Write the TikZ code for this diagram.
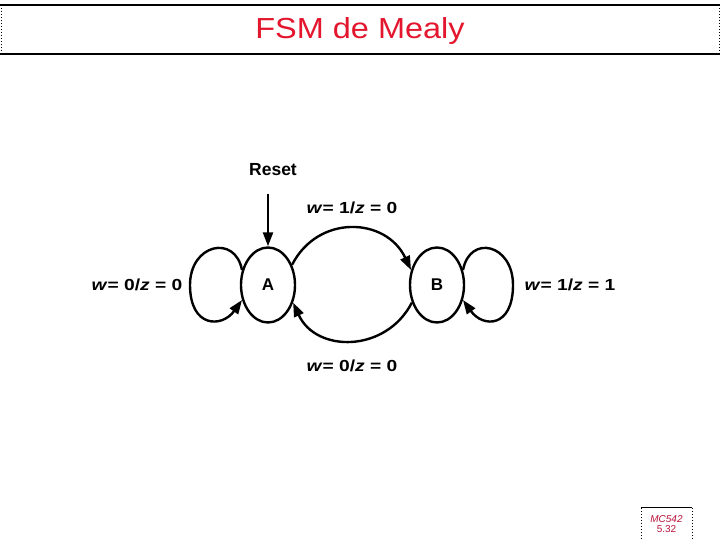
\documentclass[tikz,border=0pt]{standalone}
\usepackage{fontspec}
\setmainfont{Liberation Sans}
\usetikzlibrary{shapes.geometric,arrows.meta}
\definecolor{titlered}{HTML}{E3162E}
\definecolor{footred}{HTML}{B8143C}
\tikzset{
  state/.style={draw, line width=2.4pt, ellipse, minimum width=54pt, minimum height=75pt, inner sep=0pt, font=\fontsize{17}{19}\selectfont\bfseries},
  arr/.style={line width=2.4pt, -{Triangle[length=14pt,width=10pt]}},
  lbl/.style={font=\fontsize{16}{18}\selectfont\bfseries, xscale=1.2},
  frame/.style={line width=1.4pt},
  dotline/.style={line width=1pt, dotted}
}
\newcommand{\wz}[2]{\textit{w}= #1/\textit{z} = #2}
\begin{document}
\begin{tikzpicture}[x=1pt,y=1pt]
\useasboundingbox (0,0) rectangle (720,540);
% title frame
\draw[frame] (0,535) -- (720,535);
\draw[frame] (0,486) -- (720,486);
\draw[dotline] (1,535) -- (1,486);
\draw[dotline] (719,535) -- (719,486);
\node[text=titlered, font=\fontsize{29}{32}\selectfont, xscale=1.12] (title) at (360,509) {FSM de Mealy};
% states
\node[state] (A) at (268,255) {A};
\node[state] (B) at (437,255) {B};
% reset
\coordinate (rs) at (268,346);
\node[font=\fontsize{17.5}{19}\selectfont\bfseries] (reset) at (273,370) {Reset};
\draw[arr] (rs) -- (A.north);
% self loops
\coordinate (lL) at (190,255);
\coordinate (rR) at (513,255);
\draw[arr] (A.150) .. controls (235,306) and (190,296) .. (lL) .. controls (190,212) and (222,212) .. (A.210);
\draw[arr] (B.30) .. controls (470,306) and (513,296) .. (rR) .. controls (513,212) and (483,212) .. (B.-30);
% transitions
\draw[arr] (A.40) .. controls (318,326) and (386,323) .. (B.150);
\draw[arr] (B.215) .. controls (386,187) and (316,187) .. (A.-35);
% labels
\node[lbl] (l1) at (352,332) {\wz{1}{0}};
\node[lbl] (l2) at (352,174) {\wz{0}{0}};
\node[lbl] (l3) at (137,255) {\wz{0}{0}};
\node[lbl] (l4) at (570,255) {\wz{1}{1}};
% footer
\draw[line width=1pt] (641,32) -- (692,32);
\draw[dotline] (641,32) -- (641,0);
\draw[dotline] (692,32) -- (692,0);
\node[text=footred, font=\fontsize{10}{11}\selectfont\itshape, align=center] (foot) at (666.5,16) {MC542\\[-1pt]\upshape 5.32};
\end{tikzpicture}
\end{document}
